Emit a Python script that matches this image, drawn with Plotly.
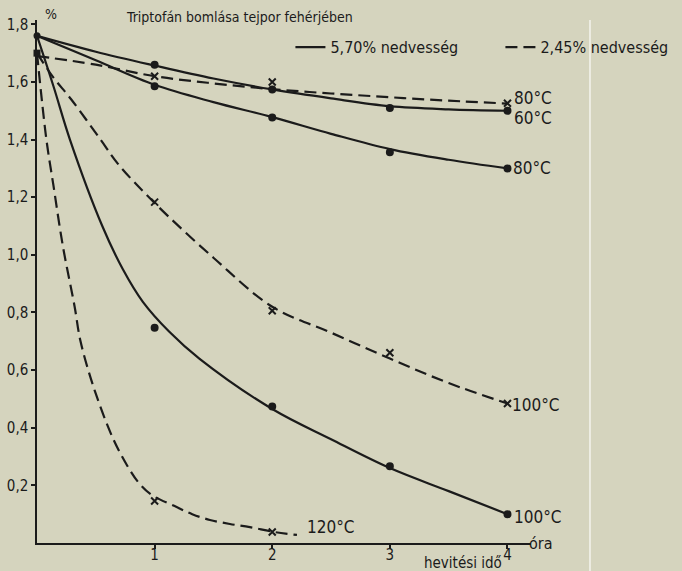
import plotly.graph_objects as go

# ---------------- data ----------------
# heating time (hours) and tryptophan content (%)
x_slow = [0, 0.5, 1, 1.5, 2, 2.5, 3, 3.5, 4]
s60_curve = [1.76, 1.705, 1.657, 1.612, 1.574, 1.543, 1.516, 1.505, 1.50]
s80_curve = [1.76, 1.675, 1.59, 1.53, 1.478, 1.42, 1.367, 1.33, 1.30]
d80_curve = [1.69, 1.66, 1.62, 1.595, 1.575, 1.56, 1.547, 1.535, 1.525]

x_s100 = [0, 0.14, 0.28, 0.555, 0.73, 0.90, 1.125, 1.38, 2.0, 2.5, 3.0, 3.5, 4.0]
s100_curve = [1.76, 1.585, 1.40, 1.10, 0.95, 0.837, 0.733, 0.64, 0.465, 0.36, 0.26, 0.18, 0.10]

x_d100 = [0, 0.14, 0.29, 0.54, 0.69, 1.0, 1.5, 2.0, 2.5, 3.0, 3.5, 4.0]
d100_curve = [1.70, 1.615, 1.54, 1.40, 1.315, 1.18, 0.99, 0.82, 0.73, 0.64, 0.555, 0.484]

x_d120 = [0, 0.08, 0.14, 0.22, 0.32, 0.37, 0.49, 0.646, 0.765, 0.867, 0.978,
          1.17, 1.32, 1.47, 1.64, 1.81, 2.02, 2.21]
d120_curve = [1.70, 1.40, 1.24, 1.03, 0.82, 0.70, 0.53, 0.363, 0.27, 0.208, 0.166,
              0.128, 0.10, 0.08, 0.066, 0.055, 0.038, 0.028]

# measured points
t_meas = [1, 2, 3, 4]
s60_pts = [1.66, 1.574, 1.51, 1.50]
s80_pts = [1.585, 1.477, 1.356, 1.30]
s100_pts = [0.747, 0.474, 0.266, 0.10]
d100_pts = [1.183, 0.806, 0.66, 0.484]
t_d80 = [1, 2, 4]
d80_pts = [1.62, 1.60, 1.526]
t_d120 = [1, 2]
d120_pts = [0.146, 0.038]
start_solid = 1.76
start_dashed = 1.70

y_ticks = [0.2, 0.4, 0.6, 0.8, 1.0, 1.2, 1.4, 1.6, 1.8]
y_ticktext = ["0,2", "0,4", "0,6", "0,8", "1,0", "1,2", "1,4", "1,6", "1,8"]
x_ticks = [1, 2, 3, 4]
x_ticktext = ["1", "2", "3", "4"]

# labels at the curve ends: (text, x, y)
curve_labels = [
    ("80°C", 4.04, 1.545),
    ("60°C", 4.04, 1.475),
    ("80°C", 4.03, 1.30),
    ("100°C", 4.02, 0.478),
    ("100°C", 4.04, 0.090),
    ("120°C", 2.28, 0.057),
]

# ---------------- style ----------------
BG = "#d5d4be"
INK = "#1b1b1b"
FONT = "DejaVu Sans Condensed, Liberation Sans Narrow, Noto Sans, sans-serif"
LW = 2.2
DASH = "12px,6px"

fig = go.Figure()

def curve(x, y, dashed, name=None, show=False):
    fig.add_trace(go.Scatter(
        x=x, y=y, mode="lines",
        line=dict(color=INK, width=LW, shape="spline", smoothing=1.0,
                  dash=DASH if dashed else "solid"),
        name=name, showlegend=show, hoverinfo="skip", cliponaxis=False))

def points(x, y, dashed):
    fig.add_trace(go.Scatter(
        x=x, y=y, mode="markers",
        marker=dict(color=INK, size=7 if dashed else 6,
                    symbol="x-thin" if dashed else "circle",
                    line=dict(color=INK, width=2)),
        showlegend=False, hoverinfo="skip", cliponaxis=False))

curve(x_slow, s60_curve, False, "5,70% nedvesség", True)
curve(x_slow, s80_curve, False)
curve(x_s100, s100_curve, False)
curve(x_slow, d80_curve, True, "2,45% nedvesség", True)
curve(x_d100, d100_curve, True)
curve(x_d120, d120_curve, True)

points(t_meas, s60_pts, False)
points(t_meas, s80_pts, False)
points(t_meas, s100_pts, False)
points(t_d80, d80_pts, True)
points(t_meas, d100_pts, True)
points(t_d120, d120_pts, True)

fig.add_trace(go.Scatter(x=[0], y=[start_solid], mode="markers",
                         marker=dict(color=INK, size=7, symbol="circle"),
                         showlegend=False, hoverinfo="skip", cliponaxis=False))
fig.add_trace(go.Scatter(x=[0], y=[start_dashed], mode="markers",
                         marker=dict(color=INK, size=7, symbol="square"),
                         showlegend=False, hoverinfo="skip", cliponaxis=False))

annotations = []
for txt, xx, yy in curve_labels:
    annotations.append(dict(text=txt, x=xx, y=yy, xref="x", yref="y",
                            xanchor="left", yanchor="middle", showarrow=False,
                            font=dict(size=17, color=INK, family=FONT)))

annotations += [
    dict(text="Triptofán bomlása tejpor fehérjében", x=1.72, y=1.006,
         xref="x", yref="paper", xanchor="center", yanchor="middle",
         showarrow=False, font=dict(size=14, color=INK, family=FONT)),
    dict(text="%", x=0.12, y=1.011, xref="x", yref="paper",
         xanchor="center", yanchor="middle", showarrow=False,
         font=dict(size=14, color=INK, family=FONT)),
    dict(text="óra", x=4.17, y=0.0, xref="x", yref="paper",
         xanchor="left", yanchor="middle", showarrow=False,
         font=dict(size=16, color=INK, family=FONT)),
    dict(text="hevitési idő", x=3.62, y=-0.039, xref="x", yref="paper",
         xanchor="center", yanchor="middle", showarrow=False,
         font=dict(size=15, color=INK, family=FONT)),
]

fig.update_layout(
    width=682, height=571,
    margin=dict(l=37, r=151, t=20, b=28, autoexpand=False),
    paper_bgcolor=BG, plot_bgcolor=BG,
    font=dict(family=FONT, size=15, color=INK),
    xaxis=dict(range=[0, 4.2], showline=True, linecolor=INK, linewidth=1.5,
               ticks="outside", ticklen=4, tickwidth=1.5, tickcolor=INK,
               tickvals=x_ticks, ticktext=x_ticktext, showgrid=False,
               zeroline=False, tickfont=dict(size=15), ticklabelstandoff=-7),
    yaxis=dict(range=[0, 1.815], showline=True, linecolor=INK, linewidth=1.5,
               ticks="outside", ticklen=4, tickwidth=1.5, tickcolor=INK,
               tickvals=y_ticks, ticktext=y_ticktext, showgrid=False,
               zeroline=False, tickfont=dict(size=15)),
    legend=dict(orientation="h", x=0.513, y=0.948, xanchor="left",
                yanchor="middle", bgcolor="rgba(0,0,0,0)",
                font=dict(size=16, color=INK, family=FONT),
                entrywidth=165, entrywidthmode="pixels",
                itemwidth=30, tracegroupgap=0),
    annotations=annotations,
    shapes=[dict(type="line", xref="paper", yref="paper",
                 x0=1.1194, x1=1.1194, y0=-0.055, y1=1.0,
                 line=dict(color="rgba(255,255,255,0.75)", width=1.5))],
    showlegend=True,
)

fig.write_html("out.html", config={"displayModeBar": False},
               post_script="document.body.style.margin='0px';")
